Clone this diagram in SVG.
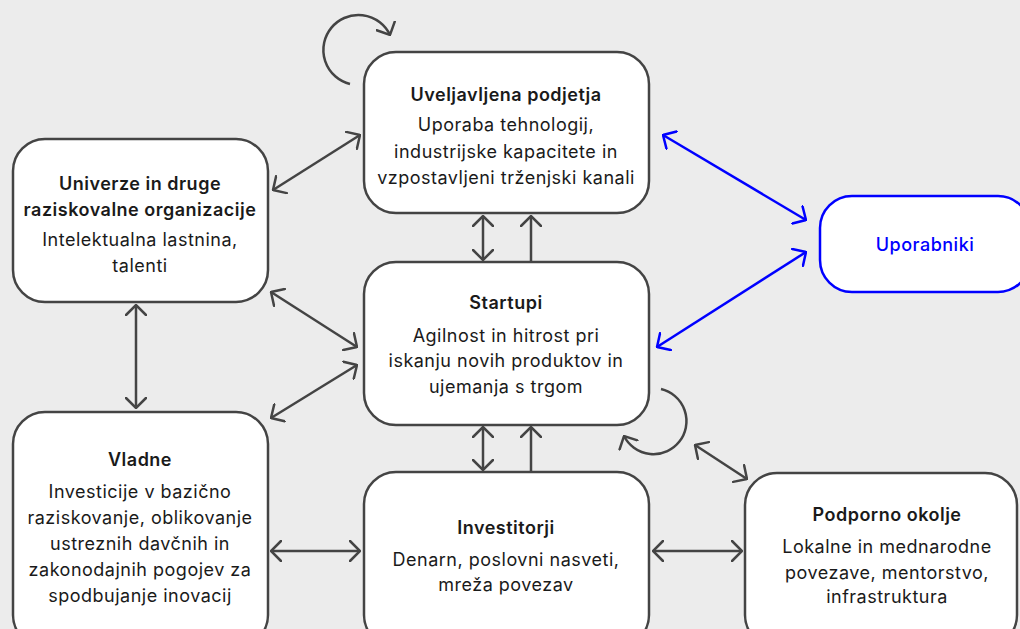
<svg xmlns="http://www.w3.org/2000/svg" width="1020" height="629" viewBox="0 0 1020 629">
  <style>
    .box { fill: #ffffff; stroke: #444444; stroke-width: 2.5; }
    .user { fill: #ffffff; stroke: #0000ff; stroke-width: 2.5; }
    .t { font-family: Inter, "Liberation Sans", sans-serif; font-size: 18px; letter-spacing: 0.5px; fill: #1a1a1a; text-anchor: middle; }
    .b { font-weight: 600; }
    .blue { fill: #0000ff; font-weight: 500; }
    .ln { fill: none; stroke: #444444; stroke-width: 2.5; }
    .lb { fill: none; stroke: #0000ff; stroke-width: 2.5; }
  </style>
  <defs>
    <marker id="ah" viewBox="0 0 12 22" refX="11" refY="11" markerWidth="12" markerHeight="22" markerUnits="userSpaceOnUse" orient="auto-start-reverse">
      <path d="M1,1 L11,11 L1,21" fill="none" stroke="#444444" stroke-width="2.5" stroke-linecap="round" stroke-linejoin="miter"/>
    </marker>
    <marker id="ahb" viewBox="0 0 12 22" refX="11" refY="11" markerWidth="12" markerHeight="22" markerUnits="userSpaceOnUse" orient="auto-start-reverse">
      <path d="M1,1 L11,11 L1,21" fill="none" stroke="#0000ff" stroke-width="2.5" stroke-linecap="round" stroke-linejoin="miter"/>
    </marker>
  </defs>

  <rect x="0" y="0" width="1020" height="629" fill="#ececec"/>

  <!-- connectors -->
  <g id="connectors">
    <!-- self loops -->
    <path class="ln" d="M 350 84 A 35 35 0 1 1 390 35" marker-end="url(#ah)"/>
    <path class="ln" d="M 661 389 A 33 33 0 1 1 624 436" marker-end="url(#ah)"/>
    <!-- established companies <-> startups -->
    <line class="ln" x1="483" y1="216" x2="483" y2="260" marker-start="url(#ah)" marker-end="url(#ah)"/>
    <line class="ln" x1="531" y1="262" x2="531" y2="216" marker-end="url(#ah)"/>
    <!-- startups <-> investors -->
    <line class="ln" x1="483" y1="427" x2="483" y2="470" marker-start="url(#ah)" marker-end="url(#ah)"/>
    <line class="ln" x1="531" y1="472" x2="531" y2="427" marker-end="url(#ah)"/>
    <!-- universities -->
    <line class="ln" x1="273" y1="190" x2="360" y2="135" marker-start="url(#ah)" marker-end="url(#ah)"/>
    <line class="ln" x1="271" y1="292" x2="357" y2="347" marker-start="url(#ah)" marker-end="url(#ah)"/>
    <line class="ln" x1="271" y1="418" x2="357" y2="365" marker-start="url(#ah)" marker-end="url(#ah)"/>
    <line class="ln" x1="136" y1="305" x2="136" y2="408" marker-start="url(#ah)" marker-end="url(#ah)"/>
    <!-- bottom row -->
    <line class="ln" x1="271" y1="551" x2="360" y2="551" marker-start="url(#ah)" marker-end="url(#ah)"/>
    <line class="ln" x1="653" y1="551" x2="742" y2="551" marker-start="url(#ah)" marker-end="url(#ah)"/>
    <line class="ln" x1="695" y1="445" x2="747" y2="479" marker-start="url(#ah)" marker-end="url(#ah)"/>
    <!-- users -->
    <line class="lb" x1="663" y1="135" x2="806" y2="220" marker-start="url(#ahb)" marker-end="url(#ahb)"/>
    <line class="lb" x1="657" y1="347" x2="806" y2="252" marker-start="url(#ahb)" marker-end="url(#ahb)"/>
  </g>

  <g id="uveljavljena">
    <rect class="box" x="364" y="52" width="285" height="161" rx="32"/>
    <text class="t b" x="506" y="101">Uveljavljena podjetja</text>
    <text class="t" x="506" y="131">Uporaba tehnologij,</text>
    <text class="t" x="506" y="158">industrijske kapacitete in</text>
    <text class="t" x="506" y="184">vzpostavljeni trženjski kanali</text>
  </g>

  <g id="univerze">
    <rect class="box" x="13" y="139" width="255" height="163" rx="32"/>
    <text class="t b" x="140" y="190">Univerze in druge</text>
    <text class="t b" x="140" y="216">raziskovalne organizacije</text>
    <text class="t" x="140" y="246">Intelektualna lastnina,</text>
    <text class="t" x="140" y="272">talenti</text>
  </g>

  <g id="startupi">
    <rect class="box" x="364" y="262" width="285" height="163" rx="32"/>
    <text class="t b" x="506" y="309">Startupi</text>
    <text class="t" x="506" y="342">Agilnost in hitrost pri</text>
    <text class="t" x="506" y="367">iskanju novih produktov in</text>
    <text class="t" x="506" y="393">ujemanja s trgom</text>
  </g>

  <g id="uporabniki">
    <rect class="user" x="820" y="196" width="210" height="96" rx="32"/>
    <text class="t blue" x="925" y="251">Uporabniki</text>
  </g>

  <g id="vladne">
    <rect class="box" x="13" y="412" width="255" height="235" rx="32"/>
    <text class="t b" x="140" y="466">Vladne</text>
    <text class="t" x="140" y="498">Investicije v bazično</text>
    <text class="t" x="140" y="524">raziskovanje, oblikovanje</text>
    <text class="t" x="140" y="550">ustreznih davčnih in</text>
    <text class="t" x="140" y="576">zakonodajnih pogojev za</text>
    <text class="t" x="140" y="602">spodbujanje inovacij</text>
  </g>

  <g id="investitorji">
    <rect class="box" x="364" y="472" width="285" height="175" rx="32"/>
    <text class="t b" x="506" y="534">Investitorji</text>
    <text class="t" x="506" y="566">Denarn, poslovni nasveti,</text>
    <text class="t" x="506" y="591">mreža povezav</text>
  </g>

  <g id="podporno">
    <rect class="box" x="745" y="473" width="272" height="174" rx="32"/>
    <text class="t b" x="887" y="521">Podporno okolje</text>
    <text class="t" x="887" y="553">Lokalne in mednarodne</text>
    <text class="t" x="887" y="579">povezave, mentorstvo,</text>
    <text class="t" x="887" y="603">infrastruktura</text>
  </g>
</svg>
